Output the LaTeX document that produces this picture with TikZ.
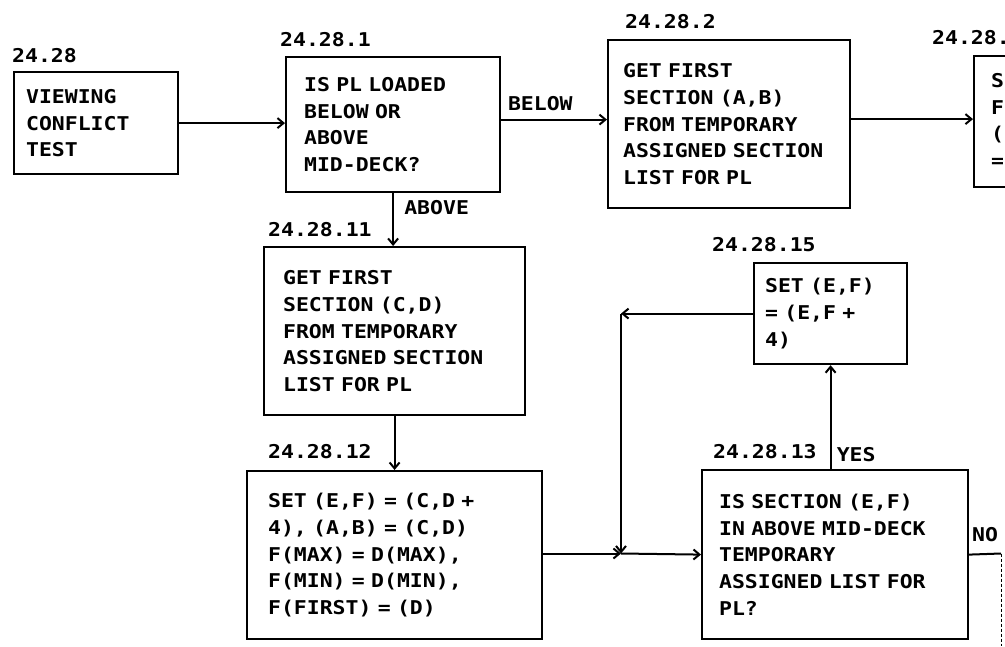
\documentclass[tikz,border=0pt]{standalone}
\usepackage{fontspec}
\usetikzlibrary{arrows.meta,positioning}
\newfontfamily\dotfont{DejaVu Sans Mono}[FakeStretch=1.13, BoldFeatures={FakeStretch=1.13}]

\begin{document}
\begin{tikzpicture}[x=1pt, y=-1pt,
    every node/.style={font={\dotfont\bfseries\fontsize{19}{26.6}\selectfont\spaceskip=12.9pt\relax}},
    blk/.style={draw, line width=2.2pt, anchor=north west, align=left, inner ysep=2pt},
    num/.style={inner sep=0pt},
    arr/.style={line width=2pt, -{Straight Barb[length=6pt,width=10pt]}}]
  \useasboundingbox (0,0) rectangle (1005,646);
  \clip (0,0) rectangle (1005,646);

  % top row
  \node[blk, minimum height=102pt, text width=140pt, inner xsep=12pt] (b0) at (13,71) {VIEWING\\CONFLICT\\TEST};
  \node[blk, minimum height=135pt, text width=178pt, inner xsep=18pt] (b1) at (285,56) {IS PL LOADED\\BELOW OR\\ABOVE\\MID-DECK?};
  \node[blk, minimum height=168pt, text width=212pt, inner xsep=15pt] (b2) at (607,39) {GET FIRST\\SECTION (A,B)\\FROM TEMPORARY\\ASSIGNED SECTION\\LIST FOR PL};
  \node[blk, minimum height=131pt, text width=126pt, inner xsep=17pt] (b3) at (973,55) {SET\\FIRST\\(E,F)\\= (A,B)};

  % lower part
  \node[blk, minimum height=168pt, text width=223pt, inner xsep=19pt] (b11) at (263,246) {GET FIRST\\SECTION (C,D)\\FROM TEMPORARY\\ASSIGNED SECTION\\LIST FOR PL};
  \node[blk, minimum height=168pt, text width=253pt, inner xsep=21pt] (b12) at (246,470) {SET (E,F) = (C,D +\\4), (A,B) = (C,D)\\F(MAX) = D(MAX),\\F(MIN) = D(MIN),\\F(FIRST) = (D)};
  \node[blk, minimum height=169pt, text width=232pt, inner xsep=17pt] (b13) at (701,469) {IS SECTION (E,F)\\IN ABOVE MID-DECK\\TEMPORARY\\ASSIGNED LIST FOR\\PL?};
  \node[blk, minimum height=101pt, text width=131pt, inner xsep=11pt] (b15) at (753,262) {SET (E,F)\\= (E,F +\\4)};

  % step numbers
  \node[num, above right=8pt and -1pt of b0.north west] (n0) {24.28};
  \node[num, above right=9pt and -5pt of b1.north west] (n1) {24.28.1};
  \node[num, above right=10pt and 18pt of b2.north west] (n2) {24.28.2};
  \node[num, above right=10pt and -41pt of b3.north west] (n3) {24.28.3};
  \node[num, above right=9pt and 5pt of b11.north west] (n11) {24.28.11};
  \node[num, above right=11pt and 22pt of b12.north west] (n12) {24.28.12};
  \node[num, above right=10pt and 12pt of b13.north west] (n13) {24.28.13};
  \node[num, above right=10pt and -41pt of b15.north west] (n15) {24.28.15};

  \coordinate (j) at (621,553.5);
  \coordinate (loopc) at (b15.west -| j);
  \coordinate (yesfoot) at (b15.south |- b13.north);
  \coordinate (noend) at (1001,553.5);
  \coordinate (nodown) at (1001,646);

  \draw[arr] (b0.east) -- (b0.east -| b1.west);
  \draw[arr] ([yshift=5pt]b1.east) -- node[num, above=8pt, pos=0.37] (lbelow) {BELOW} ([yshift=5pt]b1.east -| b2.west);
  \draw[arr] ([yshift=5pt]b2.east) -- ([yshift=5pt]b2.east -| b3.west);
  \draw[arr] (b1.south) -- (b1.south |- b11.north);
  \node[num, below right=7pt and 11pt of b1.south] (labove) {ABOVE};
  \draw[arr] (b11) -- (b12);
  \draw[arr] (b12.east |- j) -- (j);
  \draw[arr] (j) -- (b13.west);
  \draw[arr] (yesfoot) -- (b15.south);
  \node[num, above right=7pt and 6pt of yesfoot] (lyes) {YES};
  \draw[arr] (b15.west) -- (loopc);
  \draw[arr] (loopc) -- (j);
  \draw[line width=2pt] (b13.east) -- node[num, above=11pt] (lno) {NO} (noend);
  \draw[densely dashed, line width=0.8pt] (noend) -- (nodown);
\end{tikzpicture}
\end{document}
